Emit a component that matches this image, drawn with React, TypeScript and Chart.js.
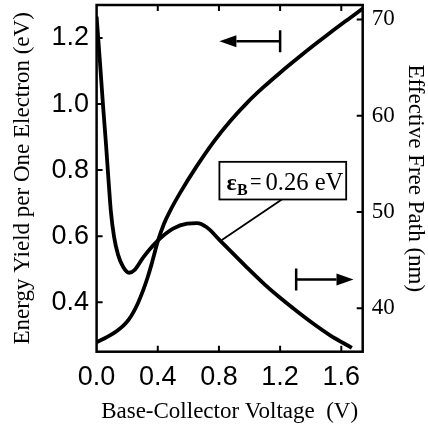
import React, { useEffect, useRef } from "react";
import { Chart, registerables } from "chart.js";

Chart.register(...registerables);

// ---- data ----
const voltageTicks = [0, 0.4, 0.8, 1.2, 1.6];
const energyTicks = [0.4, 0.6, 0.8, 1.0, 1.2];
const pathTicks = [40, 50, 60, 70];

// Energy yield per one electron (eV), left axis
const energyV = [0, 0.05, 0.09, 0.13, 0.175, 0.21, 0.24, 0.27, 0.306, 0.335, 0.36, 0.4, 0.44, 0.48, 0.546, 0.655, 0.764, 0.873, 0.982, 1.091, 1.2, 1.31, 1.418, 1.527, 1.637, 1.74];
const energyY = [0.279, 0.29, 0.3, 0.312, 0.329, 0.347, 0.369, 0.397, 0.438, 0.477, 0.516, 0.584, 0.637, 0.676, 0.731, 0.812, 0.885, 0.948, 1.003, 1.051, 1.095, 1.137, 1.177, 1.216, 1.254, 1.289];

// Effective free path (nm), right axis
const pathV = [0, 0.022, 0.042, 0.062, 0.078, 0.094, 0.114, 0.14, 0.173, 0.212, 0.251, 0.304, 0.4, 0.5, 0.592, 0.657, 0.72, 0.808, 0.982, 1.091, 1.2, 1.31, 1.418, 1.527, 1.669];
const pathY = [70.3, 65.56, 61.08, 56.92, 53.3, 49.95, 47.45, 45.58, 44.33, 43.7, 44.02, 45.27, 47.03, 48.28, 48.8, 48.85, 48.42, 47.03, 44.26, 42.6, 41.1, 39.7, 38.4, 37.2, 35.9];

const xTitle = "Base-Collector Voltage  (V)";
const yTitle = "Energy Yield per One Electron (eV)";
const y2Title = "Effective Free Path (nm)";
const labelValue = "0.26 eV";

const SANS = '"Liberation Sans", Arial, sans-serif';
const SERIF = '"Liberation Serif", "Times New Roman", serif';

const decorPlugin = {
  id: "decor",
  afterDraw(chart: any) {
    const { ctx, chartArea: a, scales } = chart;
    const x = scales.x, y = scales.y, y2 = scales.y2;
    ctx.save();
    ctx.strokeStyle = "#000";
    ctx.fillStyle = "#000";
    // frame
    ctx.lineWidth = 2.5;
    ctx.strokeRect(a.left, a.top, a.right - a.left, a.bottom - a.top);
    // inward ticks
    const T = 6;
    ctx.lineWidth = 2;
    ctx.beginPath();
    voltageTicks.forEach((v) => {
      if (v <= 0) return;
      const px = x.getPixelForValue(v);
      ctx.moveTo(px, a.bottom); ctx.lineTo(px, a.bottom - T);
      ctx.moveTo(px, a.top); ctx.lineTo(px, a.top + T);
    });
    energyTicks.forEach((v) => {
      const py = y.getPixelForValue(v);
      ctx.moveTo(a.left, py); ctx.lineTo(a.left + T, py);
    });
    pathTicks.forEach((v) => {
      const py = y2.getPixelForValue(v);
      ctx.moveTo(a.right, py); ctx.lineTo(a.right - T, py);
    });
    ctx.stroke();

    // arrows: bar at xb, tip at xt
    const arrow = (xb: number, xt: number, py: number) => {
      const dir = xt > xb ? 1 : -1;
      const head = 17, hw = 6, bar = 11;
      ctx.lineWidth = 2.5;
      ctx.beginPath();
      ctx.moveTo(xb, py - bar); ctx.lineTo(xb, py + bar);
      ctx.moveTo(xb, py); ctx.lineTo(xt - dir * head, py);
      ctx.stroke();
      ctx.beginPath();
      ctx.moveTo(xt, py);
      ctx.lineTo(xt - dir * head, py - hw);
      ctx.lineTo(xt - dir * head, py + hw);
      ctx.closePath();
      ctx.fill();
    };
    arrow(x.getPixelForValue(1.2), x.getPixelForValue(0.803), y.getPixelForValue(1.19));
    arrow(x.getPixelForValue(1.305), x.getPixelForValue(1.68), y2.getPixelForValue(43.0));

    // label box
    const bl = x.getPixelForValue(0.803), br = x.getPixelForValue(1.632);
    const bt = y.getPixelForValue(0.825), bb = y.getPixelForValue(0.711);
    ctx.lineWidth = 1.8;
    ctx.strokeRect(bl, bt, br - bl, bb - bt);
    // pointer
    ctx.beginPath();
    ctx.moveTo(x.getPixelForValue(1.211), bb);
    ctx.lineTo(x.getPixelForValue(0.819), y2.getPixelForValue(47.1));
    ctx.stroke();
    // text
    const base = y.getPixelForValue(0.741);
    ctx.textBaseline = "alphabetic";
    ctx.textAlign = "left";
    ctx.font = `bold 24px ${SERIF}`;
    ctx.fillText("\u03b5", bl + 7, base);
    ctx.font = `bold 16px ${SERIF}`;
    ctx.fillText("B", bl + 17.5, base + 5);
    ctx.font = `26px ${SERIF}`;
    ctx.fillText("=", bl + 30.5, base, 11.5);
    ctx.fillText(labelValue, bl + 46, base, 78);
    ctx.restore();
  },
};

export default function App() {
  const ref = useRef<HTMLCanvasElement | null>(null);
  useEffect(() => {
    document.body.style.margin = "0";
    const canvas = ref.current;
    if (!canvas) return;
    const chart = new Chart(canvas, {
      type: "line",
      data: {
        datasets: [
          {
            label: "Energy Yield",
            data: energyV.map((v, i) => ({ x: v, y: energyY[i] })),
            yAxisID: "y",
            borderColor: "#000",
            borderWidth: 3.8,
            pointRadius: 0,
            cubicInterpolationMode: "monotone",
            fill: false,
          },
          {
            label: "Effective Free Path",
            data: pathV.map((v, i) => ({ x: v, y: pathY[i] })),
            yAxisID: "y2",
            borderColor: "#000",
            borderWidth: 3.8,
            pointRadius: 0,
            cubicInterpolationMode: "monotone",
            fill: false,
          },
        ],
      },
      options: {
        responsive: false,
        animation: false,
        layout: { padding: { top: 5, left: 0, right: 0, bottom: 0 }, autoPadding: false },
        plugins: { legend: { display: false }, tooltip: { enabled: false } },
        scales: {
          x: {
            type: "linear",
            position: "bottom",
            min: 0,
            max: 1.74,
            afterBuildTicks: (s: any) => { s.ticks = voltageTicks.map((v) => ({ value: v })); },
            afterFit: (s: any) => { s.height = 77.3; s.paddingLeft = 0; s.paddingRight = 0; },
            ticks: {
              callback: (v: any) => Number(v).toFixed(1),
              font: { family: SANS, size: 27 },
              color: "#000",
              padding: 10,
              maxRotation: 0,
              autoSkip: false,
            },
            grid: { display: false, drawTicks: false },
            border: { display: false },
            title: { display: true, text: xTitle, font: { family: SERIF, size: 23 }, color: "#000", padding: { top: 0, bottom: 3 } },
          },
          y: {
            type: "linear",
            position: "left",
            min: 0.25,
            max: 1.3,
            afterBuildTicks: (s: any) => { s.ticks = energyTicks.map((v) => ({ value: v })); },
            afterFit: (s: any) => { s.width = 96.6; s.paddingTop = 0; s.paddingBottom = 0; },
            ticks: {
              callback: (v: any) => Number(v).toFixed(1),
              font: { family: SANS, size: 27 },
              color: "#000",
              padding: 7.6,
              autoSkip: false,
            },
            grid: { display: false, drawTicks: false },
            border: { display: false },
            title: { display: true, text: yTitle, font: { family: SERIF, size: 23 }, color: "#000", padding: { top: 9, bottom: 0 } },
          },
          y2: {
            type: "linear",
            position: "right",
            min: 35.5,
            max: 71.5,
            afterBuildTicks: (s: any) => { s.ticks = pathTicks.map((v) => ({ value: v })); },
            afterFit: (s: any) => { s.width = 65.3; s.paddingTop = 0; s.paddingBottom = 0; },
            ticks: {
              callback: (v: any) => String(v),
              font: { family: SERIF, size: 23 },
              color: "#000",
              padding: 9,
              autoSkip: false,
            },
            grid: { display: false, drawTicks: false },
            border: { display: false },
            title: { display: true, text: y2Title, font: { family: SERIF, size: 23 }, color: "#000", padding: { top: -1, bottom: 0 } },
          },
        },
      },
      plugins: [decorPlugin],
    } as any);
    return () => chart.destroy();
  }, []);
  return (
    <div style={{ width: 428, height: 429, position: "relative", background: "#fff" }}>
      <canvas ref={ref} width={428} height={429} />
    </div>
  );
}
